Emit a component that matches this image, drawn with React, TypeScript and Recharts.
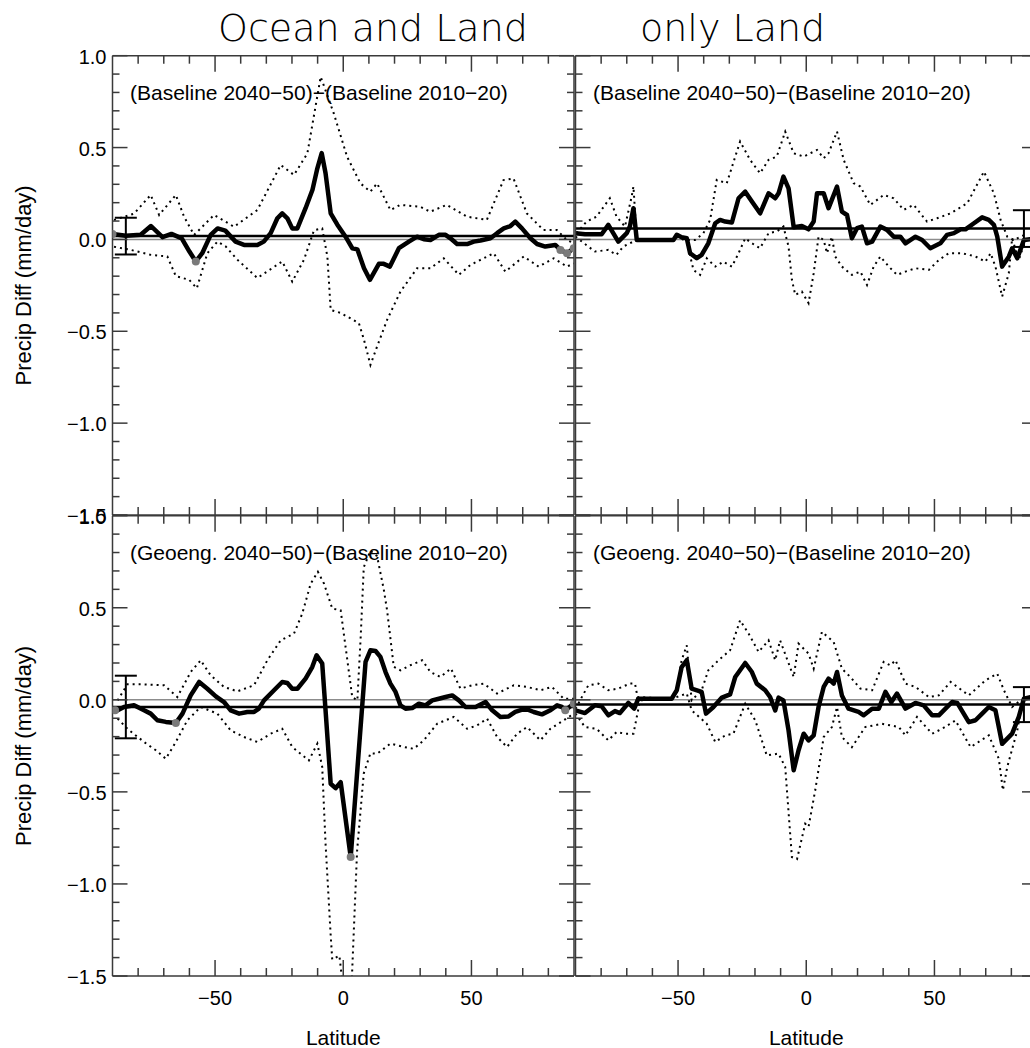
import React from 'react';
import { ComposedChart, Line, XAxis, YAxis, ReferenceLine, Scatter, ErrorBar } from 'recharts';

type Pt = [number, number];

// ---------- tick values ----------
const latTicks = [-80, -70, -60, -50, -40, -30, -20, -10, 0, 10, 20, 30, 40, 50, 60, 70, 80];
const valTicks = [-1.5, -1.4, -1.3, -1.2, -1.1, -1.0, -0.9, -0.8, -0.7, -0.6, -0.5, -0.4, -0.3, -0.2, -0.1, 0, 0.1, 0.2, 0.3, 0.4, 0.5, 0.6, 0.7, 0.8, 0.9, 1.0];

// ---------- titles ----------
const colTitles = ['Ocean and Land', 'only Land'];
const rowLabels = ['(Baseline 2040\u221250)\u2212(Baseline 2010\u221220)', '(Geoeng. 2040\u221250)\u2212(Baseline 2010\u221220)'];
const yTitle = 'Precip Diff (mm/day)';
const xTitle = 'Latitude';

// ---------- top-left: Ocean and Land, Baseline ----------
const tlMean: Pt[] = [[-90,0.03],[-84.8,0.02],[-79,0.025],[-75,0.073],[-70.5,0.012],[-67,0.03],[-63,0.006],[-60,-0.066],[-57.5,-0.12],[-55,-0.075],[-51.7,0.025],[-49,0.06],[-46,0.048],[-42,-0.012],[-38.7,-0.03],[-33.5,-0.03],[-31,-0.012],[-28.3,0.034],[-25.7,0.115],[-23.8,0.142],[-21.8,0.115],[-19.9,0.06],[-17.9,0.06],[-14.7,0.17],[-12,0.27],[-10.1,0.387],[-8.4,0.47],[-6.9,0.36],[-4.9,0.142],[-2.3,0.08],[0.9,0.015],[3.5,-0.048],[5.5,-0.054],[8.1,-0.157],[10.4,-0.22],[13.9,-0.133],[15.8,-0.133],[18.2,-0.148],[21.7,-0.048],[25.6,-0.012],[28.8,0.015],[31.4,0.001],[34,-0.003],[37.3,0.025],[39.9,0.025],[41.8,0.006],[44.4,-0.025],[48.3,-0.025],[50.9,-0.012],[53.5,-0.006],[57.4,0.006],[60,0.034],[62.6,0.06],[65.2,0.073],[67.1,0.097],[69.7,0.06],[73,0.006],[75.6,-0.025],[78.8,-0.039],[82.7,-0.03],[84.7,-0.057],[87.3,-0.075],[89.9,-0.048]];
const tlUpper: Pt[] = [[-89.4,0.106],[-81.6,0.14],[-75.1,0.242],[-71.8,0.133],[-65.3,0.242],[-62.1,0.124],[-58.2,0.024],[-50.4,0.133],[-42.6,0.069],[-33.5,0.16],[-24.4,0.405],[-19.2,0.351],[-14,0.468],[-8.8,0.885],[-3.7,0.686],[1.5,0.45],[6.7,0.305],[10.6,0.26],[13.2,0.305],[18.4,0.16],[22.2,0.188],[30,0.178],[33.9,0.151],[40.4,0.188],[48.2,0.124],[56,0.106],[62.5,0.323],[66.4,0.332],[71.6,0.142],[78.1,0.051],[83.3,0.051],[87.2,-0.003],[89.8,-0.02]];
const tlLower: Pt[] = [[-89.4,-0.04],[-82.9,-0.057],[-75,-0.084],[-68.6,-0.093],[-65.3,-0.2],[-60.1,-0.22],[-57.1,-0.266],[-53,-0.075],[-49.1,-0.012],[-45.8,-0.039],[-41.3,-0.11],[-33.5,-0.21],[-23.8,-0.12],[-19.9,-0.23],[-15.3,-0.11],[-11.4,0.05],[-8.2,0.06],[-6.2,-0.093],[-4.9,-0.384],[-1,-0.4],[6.1,-0.456],[8.1,-0.547],[10.6,-0.683],[13.2,-0.583],[17.1,-0.438],[22.3,-0.284],[28.8,-0.157],[34,-0.157],[39.2,-0.103],[45.1,-0.193],[49.6,-0.139],[58.7,-0.075],[63.2,-0.175],[70.4,-0.093],[76.2,-0.148],[82.1,-0.103],[87.3,-0.148],[89.9,-0.13]];
const tlGlobal = 0.018;
const tlErr: Pt = [-84.8, 0.1];
const tlSig: Pt[] = [[-90,0.03],[-57.5,-0.12],[84.7,-0.057],[87.3,-0.075],[89.9,-0.048]];

// ---------- top-right: only Land, Baseline ----------
const trMean: Pt[] = [[-90,0.034],[-86.3,0.028],[-79.8,0.028],[-77.2,0.079],[-73.3,-0.012],[-70,0.034],[-68.8,0.07],[-67.4,0.17],[-66.1,-0.003],[-64.2,-0.003],[-51.8,-0.003],[-50.5,0.025],[-48.6,0.012],[-46.6,0.006],[-45.3,-0.075],[-42.7,-0.102],[-40.8,-0.084],[-38.2,-0.021],[-35.5,0.088],[-33.6,0.106],[-31.6,0.097],[-29,0.092],[-26.4,0.224],[-23.8,0.26],[-21.2,0.206],[-18,0.142],[-14.7,0.251],[-12.1,0.224],[-10.8,0.251],[-8.9,0.342],[-6.9,0.278],[-4.9,0.066],[-1.7,0.073],[0.9,0.055],[2.9,0.097],[4.2,0.251],[6.8,0.251],[8.7,0.17],[12,0.287],[13.9,0.151],[15.9,0.133],[17.8,0.006],[19.8,0.061],[21.7,0.07],[23.7,-0.021],[25.7,-0.012],[28.9,0.07],[31.5,0.052],[34.1,0.015],[36.7,0.015],[38.7,-0.021],[42.6,0.015],[45.2,-0.003],[48.4,-0.048],[52.3,-0.021],[54.9,0.025],[57.6,0.034],[60.2,0.055],[62.1,0.055],[65.4,0.088],[68.6,0.12],[71.2,0.106],[73.2,0.079],[74.5,0.015],[76.4,-0.148],[79,-0.094],[80.3,-0.048],[82.3,-0.103],[84.9,-0.003],[87.5,0.001]];
const trUpper: Pt[] = [[-89.6,0.034],[-85.7,0.097],[-81.8,0.124],[-76.6,0.224],[-74,0.124],[-70.7,0.07],[-68.1,0.233],[-67.4,0.288],[-66.1,-0.003],[-51.8,-0.003],[-50.5,0.034],[-47.3,-0.003],[-43.4,-0.003],[-40.1,0.034],[-37.5,0.106],[-34.9,0.324],[-31,0.306],[-25.8,0.533],[-21.9,0.433],[-18,0.36],[-14.7,0.433],[-11.5,0.451],[-8.2,0.587],[-4.9,0.469],[-1,0.451],[1.6,0.469],[4.2,0.487],[6.8,0.442],[8.7,0.469],[12,0.587],[14.6,0.433],[18.5,0.306],[21.1,0.288],[25,0.188],[30.2,0.242],[34.1,0.224],[38,0.161],[41.9,0.188],[47.1,0.097],[51,0.115],[56.3,0.142],[62.8,0.197],[69.3,0.369],[73.2,0.251],[75.8,0.106],[78.4,0.015],[81,-0.003],[83.6,0.015],[86,0.03]];
const trLower: Pt[] = [[-90,0.015],[-85,-0.039],[-82.4,-0.066],[-77.2,-0.057],[-74,-0.084],[-71.4,-0.039],[-68.8,-0.021],[-66.1,-0.003],[-51.8,-0.003],[-49.9,0.015],[-46.6,-0.012],[-44,-0.166],[-41.4,-0.193],[-38.8,-0.103],[-35.5,-0.148],[-32.3,-0.121],[-29,-0.148],[-26.4,-0.075],[-23.8,0.006],[-21.2,-0.021],[-18,-0.048],[-14.7,0.034],[-11.5,0.043],[-8.9,0.07],[-6.9,-0.039],[-5.6,-0.22],[-4.3,-0.302],[-1.7,-0.284],[0.9,-0.347],[2.9,-0.184],[4.8,0.015],[6.8,-0.003],[8.1,-0.075],[10,0.015],[11.3,-0.093],[13.9,-0.148],[17.8,-0.193],[21.1,-0.175],[23.7,-0.248],[26.3,-0.148],[28.9,-0.093],[32.2,-0.148],[35.4,-0.193],[38.7,-0.175],[42.6,-0.157],[47.8,-0.166],[51.7,-0.112],[55.6,-0.075],[60.8,-0.075],[66,-0.093],[69.9,-0.121],[71.9,-0.075],[73.8,-0.148],[76.4,-0.311],[79,-0.184],[80.3,0.006],[82.9,-0.112],[85.5,-0.003]];
const trGlobal = 0.059;
const trErr: Pt = [84.9, 0.1];
const trSig: Pt[] = [];

// ---------- bottom-left: Ocean and Land, Geoeng ----------
const blMean: Pt[] = [[-90,-0.057],[-88,-0.057],[-85.5,-0.039],[-81.6,-0.03],[-77.7,-0.057],[-75.1,-0.075],[-72.5,-0.111],[-69.2,-0.12],[-65.3,-0.126],[-62.7,-0.075],[-59.5,0.024],[-56.2,0.097],[-53,0.06],[-49.7,0.019],[-46.5,-0.012],[-43.9,-0.057],[-40.6,-0.075],[-37.4,-0.066],[-34.8,-0.066],[-32.9,-0.048],[-30.9,-0.003],[-27,0.052],[-23.8,0.097],[-21.8,0.091],[-19.9,0.06],[-17.9,0.06],[-14.7,0.115],[-12.1,0.178],[-10.4,0.242],[-8.2,0.197],[-6.9,-0.057],[-4.9,-0.456],[-3,-0.48],[-1,-0.447],[2.9,-0.854],[8.7,0.206],[10.6,0.269],[12.6,0.265],[14.5,0.233],[16.5,0.151],[18.4,0.088],[20.4,0.043],[22.3,-0.03],[24.3,-0.048],[26.9,-0.045],[29.5,-0.021],[32.1,-0.03],[34.7,-0.003],[37.3,0.006],[39.9,0.015],[42.5,0.024],[45.1,-0.003],[47.7,-0.039],[51.6,-0.039],[55.5,-0.012],[58.1,-0.057],[61.3,-0.093],[64.5,-0.09],[67.1,-0.066],[71,-0.048],[74.3,-0.066],[77.5,-0.079],[80.8,-0.057],[83.4,-0.03],[85.3,-0.039],[86.6,-0.057],[89.9,-0.021]];
const blUpper: Pt[] = [[-88,-0.003],[-84.2,0.084],[-77.7,0.084],[-69.9,0.079],[-64.7,0.015],[-59.5,0.151],[-55.6,0.215],[-51.7,0.133],[-46.5,0.07],[-41.3,0.046],[-34.8,0.079],[-29.6,0.215],[-24.4,0.323],[-19.2,0.36],[-16,0.468],[-12.7,0.631],[-9.9,0.695],[-7.5,0.631],[-4.3,0.496],[-1,0.486],[1.6,0.215],[3.5,0.015],[5.5,-0.003],[6.8,0.341],[8,0.72],[10.6,0.81],[13.2,0.78],[15.8,0.6],[17.1,0.486],[19.7,0.18],[22.3,0.16],[26.2,0.188],[30.8,0.215],[34,0.151],[37.9,0.124],[42,0.17],[45.7,0.061],[50.3,0.079],[54.8,0.088],[60,0.034],[66.5,0.079],[71.7,0.07],[76.9,0.052],[81.4,0.07],[86,0.006],[89.9,0.006]];
const blLower: Pt[] = [[-88,-0.102],[-84.2,-0.157],[-77.7,-0.229],[-73.1,-0.274],[-69.2,-0.32],[-65.3,-0.229],[-60.8,-0.111],[-55.6,-0.039],[-49.1,-0.075],[-43.9,-0.166],[-38.7,-0.202],[-33.5,-0.229],[-28.3,-0.184],[-23.8,-0.157],[-19.9,-0.256],[-13.4,-0.329],[-10.1,-0.238],[-8.2,-0.365],[-6.9,-0.782],[-4.9,-1.28],[-4.3,-1.41],[-1.5,-1.39],[-0.6,-1.5],[0.5,-1.7],[2.5,-1.7],[3.4,-1.5],[5.4,-0.82],[8,-0.4],[10.6,-0.29],[13.2,-0.293],[18.4,-0.238],[23.6,-0.256],[27.5,-0.266],[31.4,-0.22],[36.6,-0.13],[43.1,-0.093],[48.3,-0.157],[52.2,-0.139],[56.1,-0.102],[60,-0.202],[63.9,-0.256],[67.8,-0.184],[71.7,-0.148],[76.9,-0.22],[80.8,-0.157],[86,-0.111],[89.9,-0.075]];
const blGlobal = -0.039;
const blErr: Pt = [-84.8, 0.17];
const blSig: Pt[] = [[-89,-0.057],[-65.3,-0.126],[2.9,-0.854],[86.6,-0.057],[89.9,-0.021]];

// ---------- bottom-right: only Land, Geoeng ----------
const brMean: Pt[] = [[-90,-0.057],[-86.3,-0.072],[-82.4,-0.03],[-79.8,-0.035],[-77.2,-0.084],[-74.6,-0.061],[-72.7,-0.072],[-69.4,-0.017],[-67.1,-0.048],[-65.5,0.006],[-52.5,0.006],[-50.5,0.052],[-48.6,0.178],[-46.6,0.215],[-44.7,0.061],[-40.8,0.043],[-39.1,-0.075],[-36.2,-0.039],[-32.9,0.012],[-29.7,0.03],[-27.7,0.124],[-23.8,0.2],[-21.2,0.151],[-19.3,0.088],[-16,0.052],[-14.1,0.015],[-12.1,-0.057],[-10.8,0.012],[-8.9,-0.003],[-6.9,-0.166],[-4.9,-0.383],[-3,-0.274],[-1,-0.184],[0.9,-0.22],[2.9,-0.193],[4.8,-0.039],[6.8,0.07],[8.7,0.115],[10.7,0.088],[12,0.151],[13.9,0.024],[16.5,-0.048],[20.4,-0.066],[22.4,-0.084],[25.7,-0.048],[28.3,-0.048],[30.9,0.043],[33.2,-0.012],[35.4,0.034],[38.7,-0.048],[42.6,-0.017],[45.8,-0.03],[49.1,-0.084],[51.7,-0.084],[54.3,-0.048],[56.9,-0.012],[58.9,-0.017],[63.4,-0.121],[66,-0.111],[68.6,-0.075],[71.2,-0.039],[73.8,-0.057],[76.4,-0.239],[80.3,-0.184],[82.9,-0.093],[84.9,0.006],[87.5,0.015]];
const brUpper: Pt[] = [[-90,-0.048],[-85,0.079],[-81.1,0.088],[-77.2,0.052],[-73.3,0.061],[-68.8,0.088],[-66.8,0.088],[-65.8,0.015],[-52.5,0.006],[-50.5,0.052],[-48.6,0.215],[-46.6,0.296],[-44.7,-0.003],[-40.8,0.052],[-38.2,0.16],[-34.2,0.215],[-29.7,0.269],[-25.8,0.432],[-22.5,0.36],[-18.6,0.26],[-14.7,0.323],[-12.1,0.215],[-10.2,0.323],[-4.9,0.124],[-3,0.305],[0.9,0.251],[2.9,0.169],[6.1,0.369],[10.7,0.314],[13.9,0.169],[17.2,0.124],[21.1,0.061],[25.7,0.052],[30.2,0.206],[32.8,0.187],[34.8,0.215],[38.7,0.088],[42.6,0.07],[47.8,0.015],[51.7,0.024],[56.3,0.097],[63.4,0.024],[69.9,0.106],[74.5,0.142],[77.1,0.052],[80.3,-0.039],[83.6,-0.003]];
const brLower: Pt[] = [[-90,-0.075],[-86.3,-0.148],[-81.8,-0.157],[-77.2,-0.22],[-74,-0.175],[-70.7,-0.184],[-67.4,-0.184],[-66.1,-0.093],[-64.8,-0.003],[-52.5,0.006],[-46.6,0.034],[-44.7,-0.057],[-38.8,-0.13],[-35.5,-0.229],[-31.6,-0.193],[-28.4,-0.184],[-23.8,-0.021],[-19.9,-0.111],[-15.4,-0.302],[-10.8,-0.292],[-8.2,-0.365],[-5.6,-0.854],[-3.6,-0.865],[-0.4,-0.673],[0.9,-0.69],[3.5,-0.491],[6.8,-0.202],[10,-0.148],[12,-0.039],[13.9,-0.202],[17.8,-0.257],[23,-0.148],[29.6,-0.13],[36.1,-0.148],[38.7,-0.193],[43.2,-0.093],[49.1,-0.184],[53,-0.157],[58.2,-0.112],[64.1,-0.257],[71.2,-0.193],[75.1,-0.32],[76.7,-0.491],[78.4,-0.365],[82.3,-0.166],[84.2,-0.021]];
const brGlobal = -0.026;
const brErr: Pt = [84.9, 0.095];
const brSig: Pt[] = [];

// ---------- layout ----------
const W = 1045;
const H = 1048;
const FONT = '"Liberation Sans", Arial, Helvetica, sans-serif';
const AX = '#3a3a3a';

const panels = [
  { id: 'tl', x0: 112.5, x1: 574, y0: 55.7, y1: 515, mean: tlMean, upper: tlUpper, lower: tlLower, g: tlGlobal, err: tlErr, sig: tlSig, label: rowLabels[0], yLab: true, xLab: false },
  { id: 'tr', x0: 575.5, x1: 1037, y0: 55.7, y1: 515, mean: trMean, upper: trUpper, lower: trLower, g: trGlobal, err: trErr, sig: trSig, label: rowLabels[0], yLab: false, xLab: false },
  { id: 'bl', x0: 112.5, x1: 574, y0: 515.7, y1: 976, mean: blMean, upper: blUpper, lower: blLower, g: blGlobal, err: blErr, sig: blSig, label: rowLabels[1], yLab: true, xLab: true },
  { id: 'br', x0: 575.5, x1: 1037, y0: 515.7, y1: 976, mean: brMean, upper: brUpper, lower: brLower, g: brGlobal, err: brErr, sig: brSig, label: rowLabels[1], yLab: false, xLab: true },
];

const pts = (a: Pt[]) => a.map(([lat, v]) => ({ lat, v }));
const minus = (s: string) => s.replace('-', '\u2212');
const isMajorY = (v: number) => Math.abs(v * 2 - Math.round(v * 2)) < 1e-6;

const xTick = (side: 'bottom' | 'top', labels: boolean) => (props: any) => {
  const { x, y, payload } = props;
  const major = payload.value % 50 === 0;
  const len = major ? 16 : 8;
  const dir = side === 'bottom' ? -1 : 1;
  return (
    <g>
      <line x1={x} y1={y} x2={x} y2={y + dir * len} stroke={AX} strokeWidth={1.5} />
      {labels && major && side === 'bottom' ? (
        <text x={x} y={y + 29} textAnchor="middle" fontSize={20} fontFamily={FONT} fill="#000">
          {minus(String(payload.value))}
        </text>
      ) : null}
    </g>
  );
};

const yTick = (side: 'left' | 'right', labels: boolean) => (props: any) => {
  const { x, y, payload } = props;
  const major = isMajorY(payload.value);
  const len = major ? 15 : 7;
  const dir = side === 'left' ? 1 : -1;
  return (
    <g>
      <line x1={x} y1={y} x2={x + dir * len} y2={y} stroke={AX} strokeWidth={1.5} />
      {labels && major && side === 'left' ? (
        <text x={x - 6} y={y + 8} textAnchor="end" fontSize={20} fontFamily={FONT} fill="#000">
          {minus(payload.value.toFixed(1))}
        </text>
      ) : null}
    </g>
  );
};

const Panel = ({ p }: { p: typeof panels[number] }) => {
  // axes are 1px thick bands; margins are reduced by that 1px
  const margin = { left: p.x0 - 1, top: p.y0 - 1, right: W - p.x1 - 1, bottom: H - p.y1 - 1 };
  const errData = [{ lat: p.err[0], v: p.g, e: p.err[1] }];
  return (
    <div style={{ position: 'absolute', left: 0, top: 0 }}>
      <ComposedChart width={W} height={H} margin={margin}>
        <XAxis xAxisId="b" orientation="bottom" dataKey="lat" type="number" domain={[-90, 90]} allowDataOverflow
          ticks={latTicks} interval={0} height={1} tickSize={0} tickMargin={0} tickLine={false}
          axisLine={{ stroke: AX, strokeWidth: 1.5 }} tick={xTick('bottom', p.xLab)} />
        <XAxis xAxisId="t" orientation="top" dataKey="lat" type="number" domain={[-90, 90]} allowDataOverflow
          ticks={latTicks} interval={0} height={1} tickSize={0} tickMargin={0} tickLine={false}
          axisLine={{ stroke: AX, strokeWidth: 1.5 }} tick={xTick('top', false)} />
        <YAxis yAxisId="l" orientation="left" type="number" domain={[-1.5, 1.0]} allowDataOverflow
          ticks={valTicks} interval={0} width={1} tickSize={0} tickMargin={0} tickLine={false}
          axisLine={{ stroke: AX, strokeWidth: 1.5 }} tick={yTick('left', p.yLab)} />
        <YAxis yAxisId="r" orientation="right" type="number" domain={[-1.5, 1.0]} allowDataOverflow
          ticks={valTicks} interval={0} width={1} tickSize={0} tickMargin={0} tickLine={false}
          axisLine={{ stroke: AX, strokeWidth: 1.5 }} tick={yTick('right', false)} />
        <ReferenceLine xAxisId="b" yAxisId="l" y={0} stroke="#8c8c8c" strokeWidth={1.5} />
        <ReferenceLine xAxisId="b" yAxisId="l" y={p.g} stroke="#000" strokeWidth={2.5} />
        <Line xAxisId="t" yAxisId="r" data={pts(p.upper)} dataKey="v" type="linear" stroke="#000"
          strokeWidth={2} strokeDasharray="2 4" dot={false} isAnimationActive={false} />
        <Line xAxisId="b" yAxisId="r" data={pts(p.lower)} dataKey="v" type="linear" stroke="#000"
          strokeWidth={2} strokeDasharray="2 4" dot={false} isAnimationActive={false} />
        <Line xAxisId="b" yAxisId="l" data={pts(p.mean)} dataKey="v" type="linear" stroke="#000"
          strokeWidth={4.5} strokeLinejoin="round" dot={false} isAnimationActive={false} />
        <Scatter xAxisId="b" yAxisId="l" data={pts(p.sig)} dataKey="v" fill="#7a7a7a"
          shape={(s: any) => <circle cx={s.cx} cy={s.cy} r={4} fill="#7a7a7a" />} isAnimationActive={false} />
        <Scatter xAxisId="b" yAxisId="l" data={errData} dataKey="v" shape={() => <g />} isAnimationActive={false}>
          <ErrorBar dataKey="e" direction="y" width={11} stroke="#000" strokeWidth={2} isAnimationActive={false} />
        </Scatter>
      </ComposedChart>
    </div>
  );
};

export default function App() {
  return (
    <div style={{ position: 'absolute', left: 0, top: 0, width: 1030, height: H, overflow: 'hidden', background: '#fff' }}>
      {panels.map((p) => (
        <Panel key={p.id} p={p} />
      ))}
      <svg width={W} height={H} style={{ position: 'absolute', left: 0, top: 0, pointerEvents: 'none' }}>
        <text x={218} y={41} fontSize={38} fontWeight={200} fontFamily='"DejaVu Sans", sans-serif' fill="#000">{colTitles[0]}</text>
        <text x={640} y={41} fontSize={38} fontWeight={200} fontFamily='"DejaVu Sans", sans-serif' fill="#000">{colTitles[1]}</text>
        {panels.map((p) => (
          <text key={p.id + 'lab'} x={p.x0 + 17.5} y={p.y0 + 44.5} fontSize={21} fontFamily={FONT} fill="#000">{p.label}</text>
        ))}
        {panels.filter((p) => p.yLab).map((p) => {
          const cy = (p.y0 + p.y1) / 2;
          return (
            <text key={p.id + 'yt'} x={31} y={cy} transform={`rotate(-90 31 ${cy})`} textAnchor="middle" fontSize={22} fontFamily={FONT} fill="#000">{yTitle}</text>
          );
        })}
        {panels.filter((p) => p.xLab).map((p) => (
          <text key={p.id + 'xt'} x={(p.x0 + p.x1) / 2} y={1045} textAnchor="middle" fontSize={21} fontFamily={FONT} fill="#000">{xTitle}</text>
        ))}
      </svg>
    </div>
  );
}
